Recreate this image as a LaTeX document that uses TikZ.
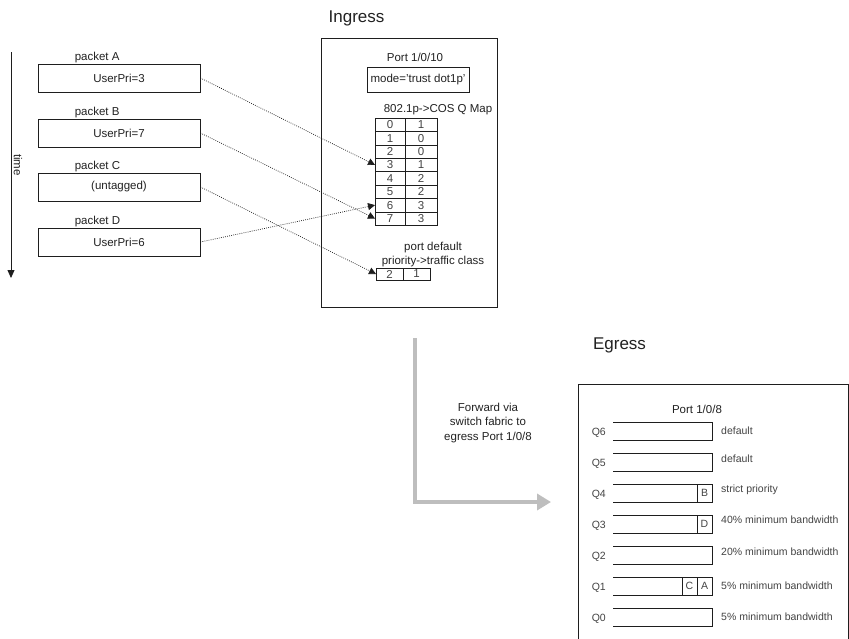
\documentclass[tikz,border=0pt]{standalone}
\usepackage{fontspec}
\setmainfont{Liberation Sans}
\definecolor{lineInk}{HTML}{1E1E1E}
\definecolor{textInk}{HTML}{222222}
\definecolor{textSoft}{HTML}{444444}
\definecolor{fwdGrey}{HTML}{BEBEBE}
\usetikzlibrary{calc, positioning, arrows.meta}
\newcommand{\fsBody}{\fontsize{11.5}{14.5}\selectfont}
\newcommand{\fsSmall}{\fontsize{10.5}{12.5}\selectfont}
\newcommand{\fsTitle}{\fontsize{17}{20}\selectfont}

\tikzset{
  pktbox/.style={draw=lineInk, line width=0.8pt, minimum width=162, minimum height=28,
    inner sep=0pt, text=textInk, font=\fsBody},
  pktname/.style={inner sep=0pt, text=textInk, font=\fsBody, anchor=base west},
  bodytext/.style={inner sep=0pt, text=textInk, font=\fsBody, align=center},
  titletext/.style={inner sep=0pt, text=textInk, font=\fsTitle, anchor=base},
  portbox/.style={draw=lineInk, line width=0.8pt, inner sep=0pt, outer sep=0pt},
  modebox/.style={draw=lineInk, line width=0.8pt, minimum width=102, minimum height=25,
    inner sep=0pt, text=textInk, font=\fsBody},
  mapcell/.style={draw=lineInk, line width=0.6pt, minimum height=13.4, inner sep=0pt,
    outer sep=0pt, text=textSoft, font=\fsBody},
  flow/.style={draw=lineInk, line width=0.7pt, dash pattern=on 0.8pt off 1.3pt,
    -{Triangle[length=7pt, width=7pt]}},
  qslot/.style={minimum width=99, minimum height=18, inner sep=0pt, outer sep=0pt},
  qline/.style={draw=lineInk, line width=0.7pt},
  qcell/.style={draw=lineInk, line width=0.7pt, minimum width=15, minimum height=18,
    inner sep=0pt, outer sep=0pt, text=textSoft, font=\fsSmall},
  qname/.style={inner sep=0pt, text=textSoft, font=\fsSmall},
  qdesc/.style={inner sep=0pt, text=textSoft, font=\fsSmall, anchor=west},
  fwd/.style={draw=fwdGrey, line width=4pt, -{Triangle[length=14pt, width=16pt]}}
}

\begin{document}
\begin{tikzpicture}[x=1pt, y=-1pt]
  \useasboundingbox (0,0) rectangle (849,638);
  \fill[white] (0,0) rectangle (849,638);

  % time axis
  \coordinate (timeTop) at (11,52);
  \coordinate (timeEnd) at (11,278);
  \draw[draw=lineInk, line width=0.8pt, -{Triangle[length=8pt, width=7pt]}] (timeTop) -- (timeEnd);
  \node[bodytext, rotate=-90] (timeLbl) at (18,165) {time};

  % packets
  \node[pktbox] (pA) at (119,78) {UserPri=3};
  \node[pktbox] (pB) at (119,133) {UserPri=7};
  \node[pktbox] (pC) at (119,187) {(untagged)};
  \node[pktbox] (pD) at (119,242) {UserPri=6};
  \foreach \p in {A,B,C,D}
    \node[pktname] (n\p) at ($(p\p.north west)+(37,-3)$) {packet \p};

  % ingress port
  \node[titletext] (ingressTitle) at (356.5,22) {Ingress};
  \node[portbox, minimum width=176, minimum height=269] (ingress) at (409,172.5) {};
  \node[bodytext] (portIn) at (415,57) {Port 1/0/10};
  \node[modebox] (mode) at (418,79.5) {mode='trust dot1p'};
  \node[bodytext] (mapTitle) at (438,110) {802.1p->COS Q Map};
  \foreach \k/\v in {0/1,1/0,2/0,3/1,4/2,5/2,6/3,7/3}{
    \node[mapcell, minimum width=30] (pri\k) at (390,{118+13.4*(\k+0.5)}) {\k};
    \node[mapcell, minimum width=32, right=0pt of pri\k] (cos\k) {\v};
  }
  \node[bodytext] (dfltTitle) at (433,254.5) {port default\\priority->traffic class};
  \node[mapcell, minimum width=27, minimum height=12] (dflt) at (389.5,274) {2};
  \node[mapcell, minimum width=27, minimum height=12, right=0pt of dflt] (dfltTc) {1};

  \draw[flow] (pA.east) -- (pri3.west);
  \draw[flow] (pB.east) -- (pri7.west);
  \draw[flow] (pC.east) -- (dflt.west);
  \draw[flow] (pD.east) -- (pri6.west);

  % forwarding
  \coordinate (fwdStart) at (415,338);
  \coordinate (fwdEnd) at (551,502);
  \draw[fwd] (fwdStart) |- (fwdEnd);
  \node[bodytext] (fwdText) at (488,423) {Forward via\\switch fabric to\\egress Port 1/0/8};

  % egress port
  \node[titletext] (egressTitle) at (619.5,349) {Egress};
  \node[portbox, minimum width=270, minimum height=270, anchor=north west] (egress) at (578,384) {};
  \node[bodytext] (portOut) at (697,409) {Port 1/0/8};
  \foreach \n/\desc/\dy in {6/default/0, 5/default/-3, 4/strict priority/-3,
      3/40\% minimum bandwidth/-4, 2/20\% minimum bandwidth/-3,
      1/5\% minimum bandwidth/0, 0/5\% minimum bandwidth/0}{
    \node[qslot] (q\n) at (662.5,{431+31*(6-\n)}) {};
    \draw[qline] (q\n.north west) -- (q\n.north east) -- (q\n.south east) -- (q\n.south west);
    \node[qname, left=7pt of q\n.west, yshift=-2pt] (qn\n) {Q\n};
    \node[qdesc] (qd\n) at ($(q\n.east)+(9,\dy)$) {\desc};
  }
  \node[qcell, anchor=east] (cellB) at (q4.east) {B};
  \node[qcell, anchor=east] (cellD) at (q3.east) {D};
  \node[qcell, anchor=east] (cellA) at (q1.east) {A};
  \node[qcell, left=0pt of cellA] (cellC) {C};
\end{tikzpicture}
\end{document}
